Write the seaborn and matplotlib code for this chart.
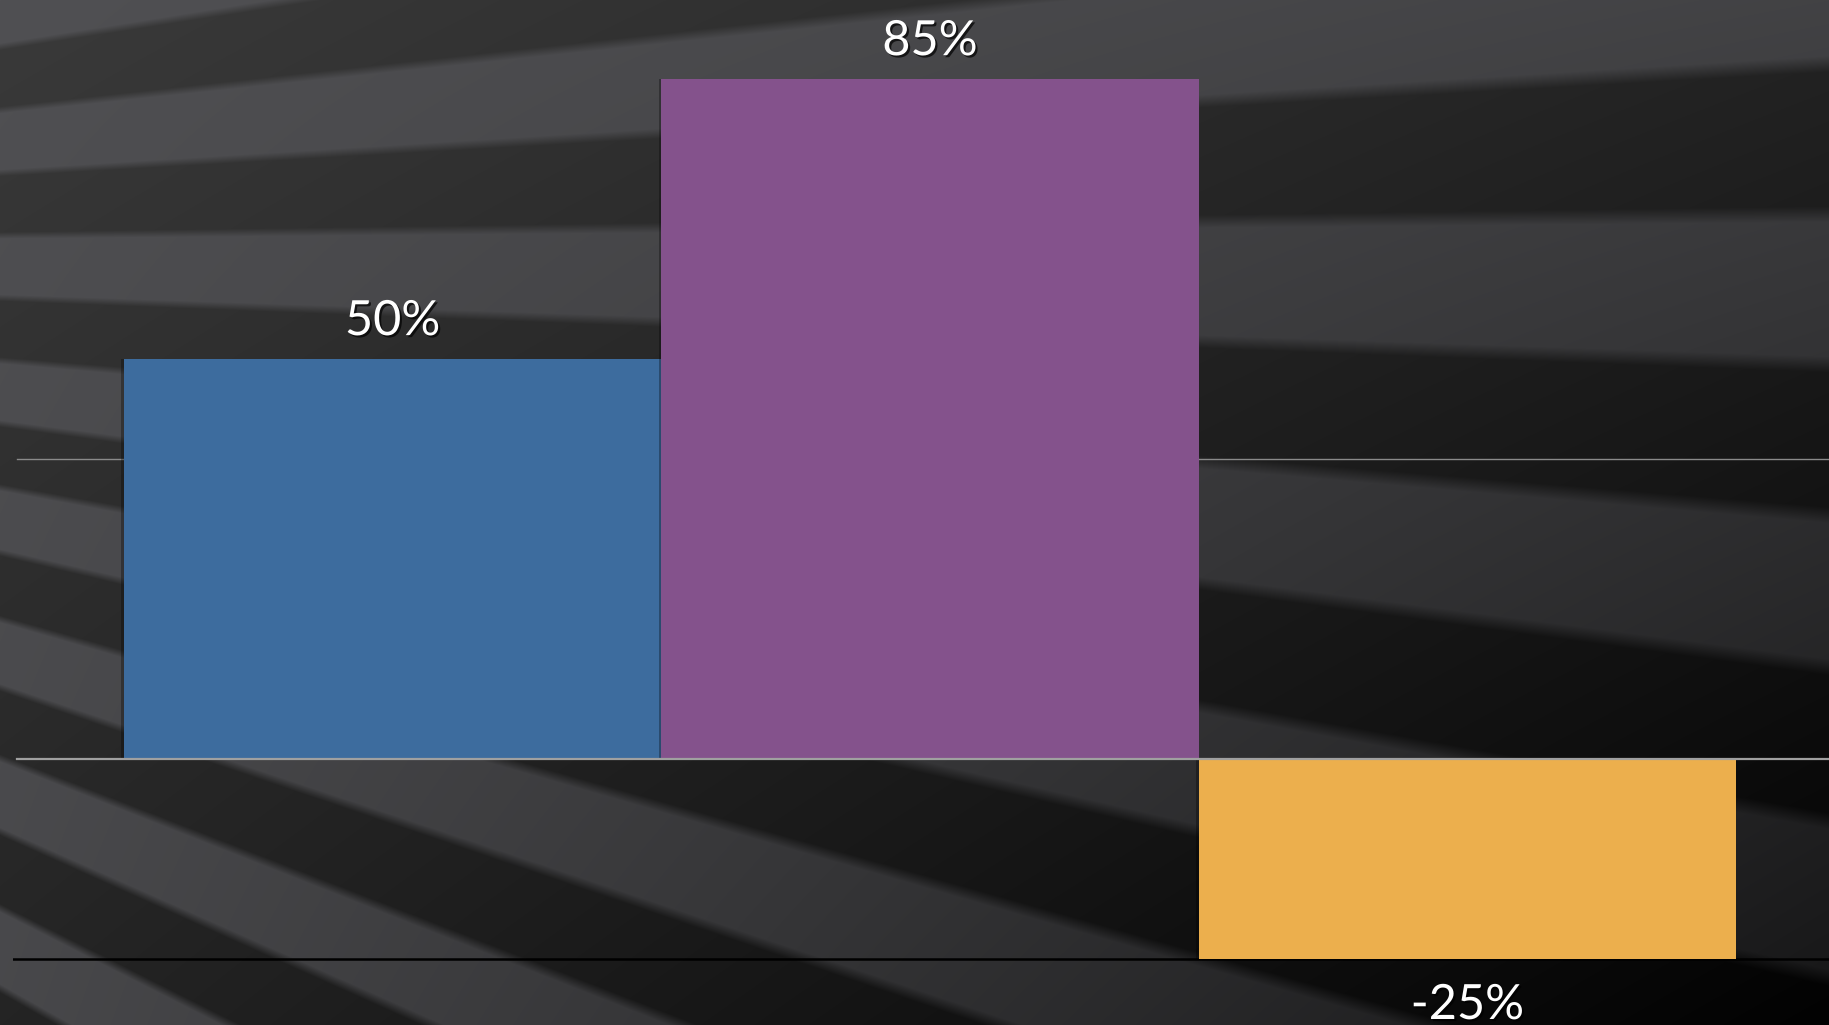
import numpy as np
import pandas as pd
import matplotlib.pyplot as plt
import matplotlib.patheffects as pe
import seaborn as sns

# chart data
categories = ["A", "B", "C"]
values = [50, 85, -25]
labels = ["50%", "85%", "-25%"]
bar_colors = ["#3D6C9E", "#84528C", "#ECAF4D"]
grid_values = [37.5]

W, H = 1829, 1025


def sunburst_background(w, h):
    """Dark striped background with rays fanning out from the left."""
    yy, xx = np.mgrid[0:h, 0:w].astype(float)
    ox, oy = -1300.0, 250.0
    step = 0.048
    ang = np.arctan2(yy - oy, xx - ox)
    center = np.arctan2(455 - oy, 0 - ox)
    s = (ang - center) / step
    dark = 0.5 + 0.5 * np.clip(np.cos(np.pi * s) * 6, -1, 1)

    u = xx / w
    v = yy / h

    def bilinear(tl, tr, bl, br):
        return tl * (1 - u) * (1 - v) + tr * u * (1 - v) + bl * (1 - u) * v + br * u * v

    light = bilinear(80, 66, 72, 22)
    deep = bilinear(58, 36, 36, 2)
    g = light * (1 - dark) + deep * dark
    tint = 3 * (1 - dark) * (light / 80)
    rgb = np.stack([g, g, g + tint], axis=-1) / 255
    return np.clip(rgb, 0, 1)


fig = plt.figure(figsize=(W / 100, H / 100), dpi=100)

bg = fig.add_axes([0, 0, 1, 1])
bg.imshow(sunburst_background(W, H), aspect="auto", interpolation="bilinear")
bg.set_axis_off()

left_px = 12.8
ax = fig.add_axes([left_px / W, 0, 1 - left_px / W, 1])
ax.patch.set_alpha(0)

df = pd.DataFrame({"category": categories, "value": values})
sns.barplot(data=df, x="category", y="value", hue="category", palette=bar_colors,
            width=1.0, saturation=1, legend=False, linewidth=0, ax=ax, zorder=3)

# soft shadow around the bars
for bar in ax.patches:
    bar.set_path_effects([pe.SimplePatchShadow(offset=(-2, 0), shadow_rgbFace="black", alpha=0.3),
                          pe.Normal()])

ax.set_xlim(-0.707, 2.673)
ax.set_ylim(-33.25, 94.9)

grid_start = (17.3 - left_px) / (W - left_px)
ax.axhline(min(values), color="black", lw=1.8, zorder=2)
ax.axhline(0, color="#a0a0a0", lw=1.6, xmin=grid_start, zorder=4)
for gv in grid_values:
    ax.axhline(gv, color="#8a8a8a", lw=1.0, xmin=grid_start, zorder=1)

shadow = [pe.SimplePatchShadow(offset=(1.5, -1.5), shadow_rgbFace="black", alpha=0.7), pe.Normal()]
for i, (v, lab) in enumerate(zip(values, labels)):
    off = 17.3 if v >= 0 else -43.2
    ax.annotate(lab, xy=(i, v), xytext=(0, off), textcoords="offset points",
                ha="center", va="baseline", fontsize=35, color="white",
                family=["Lato", "DejaVu Sans"], path_effects=shadow, zorder=5)

ax.set_axis_off()

fig.savefig("out.png", dpi=100)
